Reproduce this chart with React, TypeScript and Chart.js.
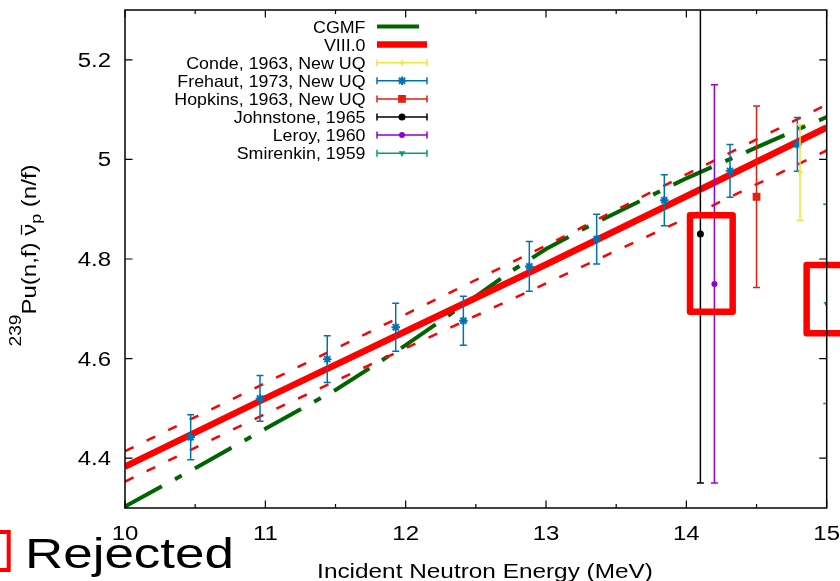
import React, { useEffect, useRef } from 'react';
import { Chart, registerables } from 'chart.js';
import { drawPoint } from 'chart.js/helpers';

Chart.register(...registerables);

const FONT_FAMILY = '"Liberation Sans", Arial, Helvetica, sans-serif';

// ---- axes ----
const energyMin = 10;
const energyMax = 15;
const nuMin = 4.3;
const nuMax = 5.3;
const energyTicks = [10, 11, 12, 13, 14, 15];
const energyTickLabels = ['10', '11', '12', '13', '14', '15'];
const energyMinorTicks = [10.5, 11.5, 12.5, 13.5, 14.5];
const nuTicks = [4.4, 4.6, 4.8, 5.0, 5.2];
const nuTickLabels = ['4.4', '4.6', '4.8', '5', '5.2'];
const xAxisTitle = 'Incident Neutron Energy (MeV)';
const yAxisTitleParts = ['239', 'Pu(n,f) ', 'ν', 'p', ' (n/f)'];
const rejectedText = 'Rejected';

// ---- CGMF ----
const cgmfEnergy = [10, 10.5, 11, 11.5, 11.75, 12, 12.5, 12.75, 13, 13.25, 13.5, 14, 14.5, 14.75, 15];
const cgmfNu = [4.303, 4.380, 4.459, 4.537, 4.582, 4.627, 4.725, 4.775, 4.820, 4.858, 4.893, 4.962, 5.024, 5.055, 5.085];

// ---- ENDF/B-VIII.0 with uncertainty band ----
const endfEnergy = [10, 11, 12, 13, 14, 15];
const endfNu = [4.383, 4.520, 4.655, 4.789, 4.926, 5.064];
const endfUpper = [4.414, 4.551, 4.689, 4.827, 4.970, 5.110];
const endfLower = [4.353, 4.489, 4.621, 4.751, 4.882, 5.018];

// ---- experiments ----
const condeEnergy = [14.81];
const condeNu = [4.974];
const condeErr = [0.096];

const frehautEnergy = [10.468, 10.962, 11.441, 11.929, 12.411, 12.881, 13.361, 13.843, 14.311, 14.791];
const frehautNu = [4.442, 4.520, 4.599, 4.663, 4.676, 4.785, 4.840, 4.918, 4.977, 5.030];
const frehautErr = [0.045, 0.046, 0.047, 0.048, 0.049, 0.050, 0.050, 0.051, 0.053, 0.054];

const hopkinsEnergy = [14.5];
const hopkinsNu = [4.925];
const hopkinsErr = [0.182];

const johnstoneEnergy = [14.1];
const johnstoneNu = [4.85];
const johnstoneErr = [0.5];

const leroyEnergy = [14.2];
const leroyNu = [4.75];
const leroyErr = [0.4];

const smirenkinEnergy = [15.0];
const smirenkinNu = [4.71];
const smirenkinErr = [0.2];

// ---- rejected-data boxes (data units) ----
const rejectedBoxEnergyMin = [14.026, 14.857];
const rejectedBoxEnergyMax = [14.33, 15.35];
const rejectedBoxNuMin = [4.694, 4.651];
const rejectedBoxNuMax = [4.888, 4.788];

const pts = (xs: number[], ys: number[]) => xs.map((x, i) => ({ x, y: ys[i] }));

function stretchedText(ctx: CanvasRenderingContext2D, text: string, x: number, y: number, size: number, sx: number, align: CanvasTextAlign) {
  ctx.save();
  ctx.font = `${size}px ${FONT_FAMILY}`;
  ctx.translate(x, y);
  ctx.scale(sx, 1);
  ctx.textAlign = align;
  ctx.textBaseline = 'alphabetic';
  ctx.fillStyle = '#000';
  ctx.fillText(text, 0, 0);
  ctx.restore();
}

function drawYTitle(ctx: CanvasRenderingContext2D, baselineX: number, centerY: number) {
  const sizes = [16, 20, 20, 15, 20];
  const shifts = [-15, 0, 0, 5, 0];
  const sx = 1.2;
  ctx.save();
  const widths = yAxisTitleParts.map((t, i) => {
    ctx.font = `${sizes[i]}px ${FONT_FAMILY}`;
    return ctx.measureText(t).width;
  });
  const total = widths.reduce((a, b) => a + b, 0);
  ctx.translate(baselineX, centerY);
  ctx.rotate(-Math.PI / 2);
  ctx.scale(sx, 1);
  ctx.fillStyle = '#000';
  ctx.strokeStyle = '#000';
  ctx.textAlign = 'left';
  ctx.textBaseline = 'alphabetic';
  let x = -total / 2;
  yAxisTitleParts.forEach((t, i) => {
    ctx.font = `${sizes[i]}px ${FONT_FAMILY}`;
    ctx.fillText(t, x, shifts[i]);
    if (i === 2) {
      ctx.lineWidth = 1.3;
      ctx.beginPath();
      ctx.moveTo(x + 1, -14.5);
      ctx.lineTo(x + widths[i] - 1, -14.5);
      ctx.stroke();
    }
    x += widths[i];
  });
  ctx.restore();
}

const overlayPlugin = {
  id: 'gnuplotOverlay',
  beforeDatasetDraw(chart: any, args: any) {
    const ds = chart.data.datasets[args.index];
    if (!ds.errors) return;
    const ctx: CanvasRenderingContext2D = chart.ctx;
    const ca = chart.chartArea;
    const ys = chart.scales.y;
    ctx.save();
    ctx.beginPath();
    ctx.rect(ca.left, ca.top, ca.right - ca.left, ca.bottom - ca.top);
    ctx.clip();
    ctx.strokeStyle = ds.errorColor || ds.borderColor;
    ctx.lineWidth = 1.5;
    args.meta.data.forEach((el: any, i: number) => {
      const v = ds.data[i].y;
      const e = ds.errors[i];
      const yt = ys.getPixelForValue(v + e);
      const yb = ys.getPixelForValue(v - e);
      const x = el.x;
      ctx.beginPath();
      ctx.moveTo(x, yt);
      ctx.lineTo(x, yb);
      ctx.moveTo(x - 3.5, yt);
      ctx.lineTo(x + 3.5, yt);
      ctx.moveTo(x - 3.5, yb);
      ctx.lineTo(x + 3.5, yb);
      ctx.stroke();
    });
    ctx.restore();
  },
  afterDraw(chart: any) {
    const ctx: CanvasRenderingContext2D = chart.ctx;
    const ca = chart.chartArea;
    const xs = chart.scales.x;
    const ys = chart.scales.y;

    // legend
    const textRight = 365.5;
    const sampleStart = 377;
    const sampleEnd = 427;
    let row = 0;
    chart.data.datasets.forEach((ds: any) => {
      if (!ds.legendKind) return;
      const y = 26.5 + row * 18.1;
      row++;
      stretchedText(ctx, ds.label, textRight, y + 6, 16.5, 1.08, 'right');
      ctx.save();
      if (ds.legendKind === 'line') {
        ctx.strokeStyle = ds.borderColor;
        ctx.lineWidth = ds.borderWidth;
        ctx.lineCap = 'butt';
        ctx.setLineDash(ds.borderDash || []);
        ctx.beginPath();
        ctx.moveTo(sampleStart, y);
        ctx.lineTo(sampleEnd, y);
        ctx.stroke();
      } else {
        ctx.strokeStyle = ds.errorColor || ds.borderColor;
        ctx.lineWidth = 1.5;
        ctx.beginPath();
        ctx.moveTo(sampleStart, y);
        ctx.lineTo(sampleEnd, y);
        ctx.moveTo(sampleStart, y - 3.5);
        ctx.lineTo(sampleStart, y + 3.5);
        ctx.moveTo(sampleEnd, y - 3.5);
        ctx.lineTo(sampleEnd, y + 3.5);
        ctx.stroke();
        ctx.fillStyle = ds.backgroundColor;
        ctx.strokeStyle = ds.borderColor;
        ctx.lineWidth = ds.borderWidth;
        drawPoint(ctx, { pointStyle: ds.pointStyle, rotation: ds.rotation || 0, radius: ds.pointRadius, borderWidth: ds.borderWidth } as any, (sampleStart + sampleEnd) / 2, y);
      }
      ctx.restore();
    });

    // rejected boxes
    ctx.save();
    ctx.strokeStyle = '#ff0000';
    ctx.lineWidth = 6.5;
    ctx.lineJoin = 'round';
    rejectedBoxEnergyMin.forEach((e0, i) => {
      const x0 = xs.getPixelForValue(e0);
      const x1 = xs.getPixelForValue(rejectedBoxEnergyMax[i]);
      const y0 = ys.getPixelForValue(rejectedBoxNuMax[i]);
      const y1 = ys.getPixelForValue(rejectedBoxNuMin[i]);
      ctx.strokeRect(x0, y0, x1 - x0, y1 - y0);
    });
    ctx.restore();

    // frame and ticks
    ctx.save();
    ctx.strokeStyle = '#000';
    ctx.lineWidth = 1.5;
    ctx.strokeRect(ca.left, ca.top, ca.right - ca.left, ca.bottom - ca.top);
    ctx.lineWidth = 1.2;
    ctx.beginPath();
    energyTicks.forEach((t) => {
      const px = xs.getPixelForValue(t);
      ctx.moveTo(px, ca.bottom);
      ctx.lineTo(px, ca.bottom - 7.5);
      ctx.moveTo(px, ca.top);
      ctx.lineTo(px, ca.top + 7.5);
    });
    energyMinorTicks.forEach((t) => {
      const px = xs.getPixelForValue(t);
      ctx.moveTo(px, ca.bottom);
      ctx.lineTo(px, ca.bottom - 4);
      ctx.moveTo(px, ca.top);
      ctx.lineTo(px, ca.top + 4);
    });
    nuTicks.forEach((t) => {
      const py = ys.getPixelForValue(t);
      ctx.moveTo(ca.left, py);
      ctx.lineTo(ca.left + 7.5, py);
      ctx.moveTo(ca.right, py);
      ctx.lineTo(ca.right - 7.5, py);
    });
    ctx.stroke();
    ctx.restore();

    // tick labels
    energyTicks.forEach((t, i) => {
      stretchedText(ctx, energyTickLabels[i], xs.getPixelForValue(t), 539.5, 20, 1.2, 'center');
    });
    nuTicks.forEach((t, i) => {
      stretchedText(ctx, nuTickLabels[i], 111, ys.getPixelForValue(t) + 7, 20, 1.2, 'right');
    });

    // axis titles
    stretchedText(ctx, xAxisTitle, 485, 578, 21, 1.16, 'center');
    drawYTitle(ctx, 36, 255.5);

    // "Rejected" key
    ctx.save();
    ctx.strokeStyle = '#ff0000';
    ctx.lineWidth = 4;
    ctx.strokeRect(-29, 532, 37.7, 38);
    ctx.restore();
    stretchedText(ctx, rejectedText, 25, 568.3, 42, 1.26, 'left');
  },
};

function buildConfig(): any {
  const expBase = (label: string, xs: number[], ys: number[], errs: number[], color: string, style: string, radius: number, extra: any = {}) => ({
    label,
    type: 'scatter',
    data: pts(xs, ys),
    errors: errs,
    showLine: false,
    pointStyle: style,
    pointRadius: radius,
    borderColor: color,
    backgroundColor: color,
    borderWidth: 1.5,
    legendKind: 'errorbar',
    order: 1,
    ...extra,
  });
  return {
    type: 'scatter',
    data: {
      datasets: [
        {
          label: 'CGMF', type: 'scatter', showLine: true, data: pts(cgmfEnergy, cgmfNu),
          borderColor: '#006400', backgroundColor: '#006400', borderWidth: 4, borderDash: [42, 15, 7.6, 15],
          pointRadius: 0, borderCapStyle: 'butt', legendKind: 'line', order: 10,
        },
        {
          label: 'VIII.0', type: 'scatter', showLine: true, data: pts(endfEnergy, endfNu),
          borderColor: '#ff0000', backgroundColor: '#ff0000', borderWidth: 6.5,
          pointRadius: 0, legendKind: 'line', order: 9,
        },
        {
          label: 'VIII.0 upper', type: 'scatter', showLine: true, data: pts(endfEnergy, endfUpper),
          borderColor: '#ff0000', borderWidth: 2.5, borderDash: [9.5, 14.5], pointRadius: 0, order: 9,
        },
        {
          label: 'VIII.0 lower', type: 'scatter', showLine: true, data: pts(endfEnergy, endfLower),
          borderColor: '#ff0000', borderWidth: 2.5, borderDash: [9.5, 14.5], pointRadius: 0, order: 9,
        },
        expBase('Conde, 1963, New UQ', condeEnergy, condeNu, condeErr, '#f0e442', 'cross', 3),
        expBase('Frehaut, 1973, New UQ', frehautEnergy, frehautNu, frehautErr, '#0072b2', 'star', 4.3, { borderWidth: 1.9 }),
        expBase('Hopkins, 1963, New UQ', hopkinsEnergy, hopkinsNu, hopkinsErr, '#e51e10', 'rect', 5.5, { borderWidth: 0 }),
        expBase('Johnstone, 1965', johnstoneEnergy, johnstoneNu, johnstoneErr, '#000000', 'circle', 3.5, { borderWidth: 0 }),
        expBase('Leroy, 1960', leroyEnergy, leroyNu, leroyErr, '#9400d3', 'circle', 3, { borderWidth: 0 }),
        expBase('Smirenkin, 1959', smirenkinEnergy, smirenkinNu, smirenkinErr, '#009e73', 'triangle', 3.8, { borderWidth: 0, rotation: 180 }),
      ],
    },
    options: {
      animation: false,
      responsive: true,
      maintainAspectRatio: false,
      devicePixelRatio: 1,
      events: [],
      layout: { padding: { left: 125, right: 13.3, top: 10, bottom: 73 } },
      scales: {
        x: { type: 'linear', min: energyMin, max: energyMax, display: false },
        y: { type: 'linear', min: nuMin, max: nuMax, display: false },
      },
      plugins: {
        legend: { display: false },
        tooltip: { enabled: false },
      },
    },
    plugins: [overlayPlugin],
  };
}

export default function App() {
  const canvasRef = useRef<HTMLCanvasElement>(null);
  useEffect(() => {
    document.body.style.margin = '0';
    document.body.style.overflow = 'hidden';
    const chart = new Chart(canvasRef.current as HTMLCanvasElement, buildConfig());
    return () => chart.destroy();
  }, []);
  return (
    <div style={{ width: 840, height: 581, position: 'relative', background: '#ffffff' }}>
      <canvas ref={canvasRef} />
    </div>
  );
}
